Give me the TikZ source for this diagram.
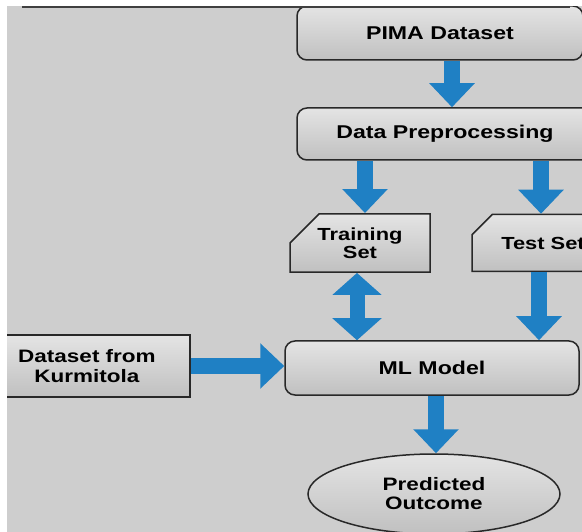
\documentclass[tikz,border=0pt]{standalone}
\usepackage{fontspec}
\newfontfamily\boxfont{Liberation Sans}[FakeStretch=1.25]
\usetikzlibrary{arrows.meta,shapes.misc,shapes.geometric}
\definecolor{bgGray}{RGB}{206,206,206}
\definecolor{boxTop}{RGB}{228,228,228}
\definecolor{boxBottom}{RGB}{192,192,192}
\definecolor{edgeDark}{RGB}{40,40,40}
\definecolor{arrowBlue}{RGB}{31,128,196}

\begin{document}
\begin{tikzpicture}
[x=1pt,y=-1pt,
  boxDecorate/.style={shape=rectangle,rounded corners=10pt,draw=edgeDark,line width=1.5pt,
    top color=boxTop,bottom color=boxBottom,inner sep=0pt,align=center,
    font=\boxfont\bfseries\fontsize{18.5}{20}\selectfont},%
  squareDecorate/.style={boxDecorate,rounded corners=0pt},%
  tagDecorate/.style={boxDecorate,rounded corners=0pt,shape=chamfered rectangle,
    chamfered rectangle corners=north west,chamfered rectangle xsep=22pt,
    chamfered rectangle ysep=14pt,font=\boxfont\bfseries\fontsize{17.5}{17.5}\selectfont},%
  ovalDecorate/.style={boxDecorate,shape=ellipse,
    font=\boxfont\bfseries\fontsize{18}{19}\selectfont},%
  arrowDecorate/.style={-{Triangle[width=44pt,length=24pt]},line width=16pt,arrowBlue},%
  twoWayDecorate/.style={{Triangle[width=48pt,length=22pt]}-{Triangle[width=48pt,length=22pt]},
    line width=15pt,arrowBlue}]
\useasboundingbox (0,0) rectangle (582,532);
\clip (0,0) rectangle (582,532);
%% page background
\fill[bgGray] (0,0) rectangle (582,532);
%% nodes
\node (pima)  at (440,33)   [boxDecorate,minimum width=286pt,minimum height=54pt] {PIMA Dataset};
\node (prep)  at (445,134)  [boxDecorate,minimum width=296pt,minimum height=52pt] {Data Preprocessing};
\node (train) at (360,243)  [tagDecorate,minimum width=140pt,minimum height=57pt] {Training\\Set};
\node (test)  at (543,243)  [tagDecorate,minimum width=142pt,minimum height=57pt] {Test Set};
\node (ml)    at (432,368)  [boxDecorate,minimum width=294pt,minimum height=54pt] {ML Model};
\node (kurm)  at (87,366)   [squareDecorate,minimum width=206pt,minimum height=62pt,
  font=\boxfont\bfseries\fontsize{18}{20}\selectfont] {Dataset from\\Kurmitola};
\node (out)   at (434,494)  [ovalDecorate,minimum width=252pt,minimum height=80pt] {Predicted\\Outcome};
%% arrows
\foreach \x/\from/\to in {
  452/pima/prep, 365/prep/train, 541/prep/test, 539/test/ml, 436/ml/out}
{
  \draw[arrowDecorate] (\from.south -| \x,0) -- (\to.north -| \x,0);
}
\draw[twoWayDecorate] (train.south -| 357,0) -- (ml.north -| 357,0);
\draw[arrowDecorate] (kurm.east) -- (kurm.east -| ml.west);
%% white margins of the scan
\fill[white] (0,0) rectangle (582,6);
\fill[white] (0,0) rectangle (7,532);
\draw[line width=1.2pt,black!75] (22,7) -- (570,7);
\end{tikzpicture}
\end{document}
